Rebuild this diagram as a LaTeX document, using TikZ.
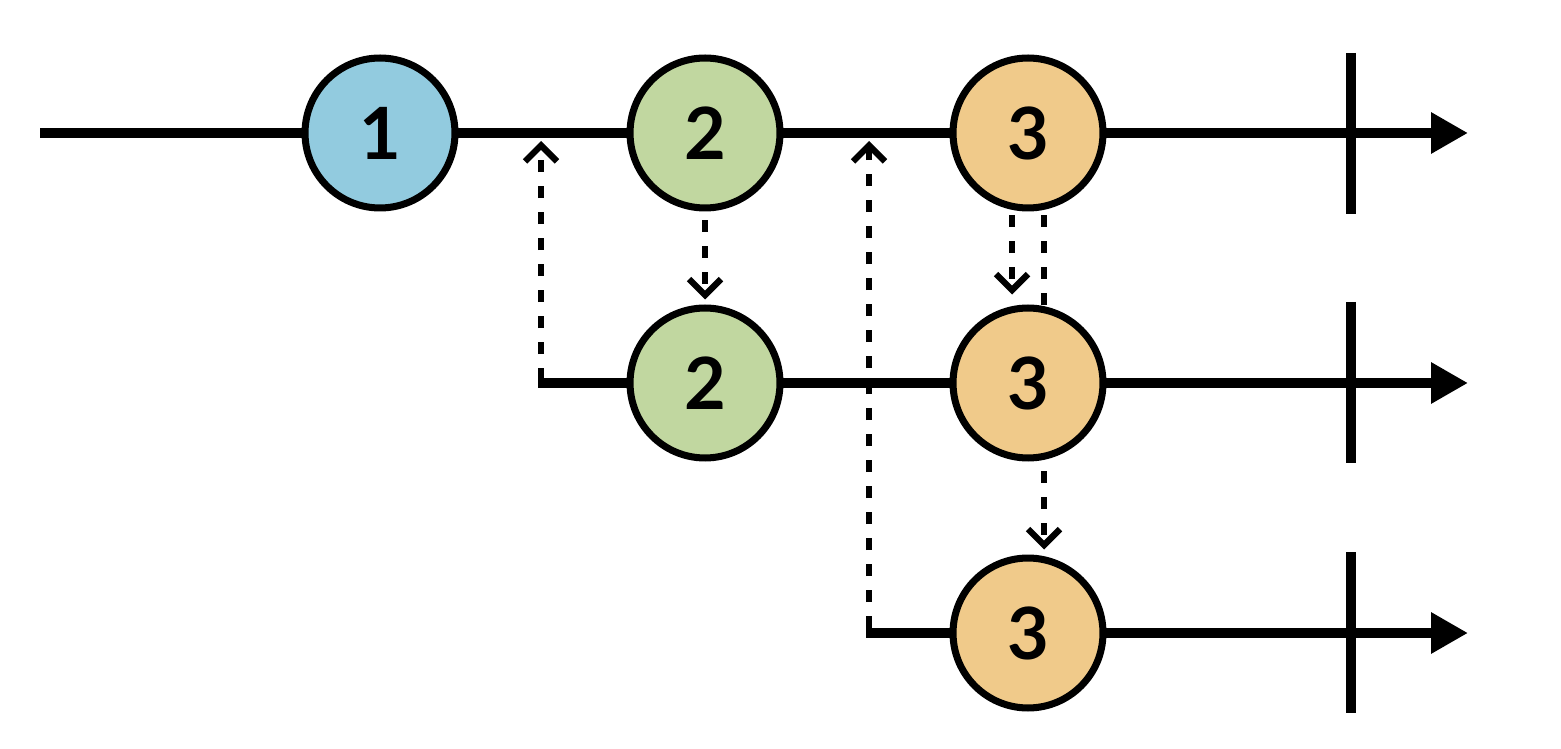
\documentclass[tikz,border=0pt]{standalone}
\usepackage{fontspec}
\setsansfont{Lato}
\usetikzlibrary{arrows.meta}
\definecolor{cblue}{RGB}{146,203,223}
\definecolor{cgreen}{RGB}{193,215,160}
\definecolor{corange}{RGB}{240,202,138}
\tikzset{
  timeline/.style={line width=5.6pt, -{Triangle[length=0.74cm,width=0.78cm]}},
  tickmark/.style={line width=5.6pt},
  marble/.style={circle, draw=black, line width=4pt, minimum size=3.0cm, inner sep=0pt,
    font=\sffamily\bfseries\fontsize{41}{44}\selectfont},
  dashlink/.style={line width=3.4pt, dash pattern=on 0.24cm off 0.28cm},
  dasharrow/.style={dashlink, -{Straight Barb[length=0.32cm,width=0.64cm,line width=3.6pt]}},
}
\begin{document}
\begin{tikzpicture}[x=0.02cm,y=-0.02cm]
\useasboundingbox (0,0) rectangle (1561,749);
% coordinates
\coordinate (s1) at (40,133);   \coordinate (e1) at (1468,133);
\coordinate (s2) at (538,383);  \coordinate (e2) at (1468,383);
\coordinate (s3) at (866,633);  \coordinate (e3) at (1468,633);
\coordinate (t1a) at (1351,53);  \coordinate (t1b) at (1351,214);
\coordinate (t2a) at (1351,302); \coordinate (t2b) at (1351,463);
\coordinate (t3a) at (1351,552); \coordinate (t3b) at (1351,713);
% timelines
\draw[timeline] (s1) -- (e1);
\draw[timeline] (s2) -- (e2);
\draw[timeline] (s3) -- (e3);
\draw[tickmark] (t1a) -- (t1b);
\draw[tickmark] (t2a) -- (t2b);
\draw[tickmark] (t3a) -- (t3b);
% marbles
\node[marble, fill=cblue]   (a1) at (380,133)  {1};
\node[marble, fill=cgreen]  (a2) at (705,133)  {2};
\node[marble, fill=corange] (a3) at (1028,133) {3};
\node[marble, fill=cgreen]  (b2) at (705,383)  {2};
\node[marble, fill=corange] (b3) at (1028,383) {3};
\node[marble, fill=corange] (c3) at (1028,633) {3};
% dashed links
\coordinate (u1s) at (541,380); \coordinate (u1e) at (541,141);
\coordinate (u2s) at (869,628); \coordinate (u2e) at (869,141);
\draw[dasharrow] (u1s) -- (u1e);
\draw[dasharrow] (u2s) -- (u2e);
\draw[dasharrow] ([yshift=-0.18cm]a2.south) -- ([yshift=0.1cm]b2.north);
\draw[dasharrow] ([xshift=-0.32cm,yshift=-0.08cm]a3.south) -- ([xshift=-0.32cm,yshift=0.2cm]b3.north);
\draw[dashlink] ([xshift=0.32cm,yshift=-0.08cm]a3.south) -- ([xshift=0.32cm,yshift=-0.02cm]b3.north);
\draw[dasharrow] ([xshift=0.32cm,yshift=-0.2cm]b3.south) -- ([xshift=0.32cm,yshift=0.1cm]c3.north);
\end{tikzpicture}
\end{document}
